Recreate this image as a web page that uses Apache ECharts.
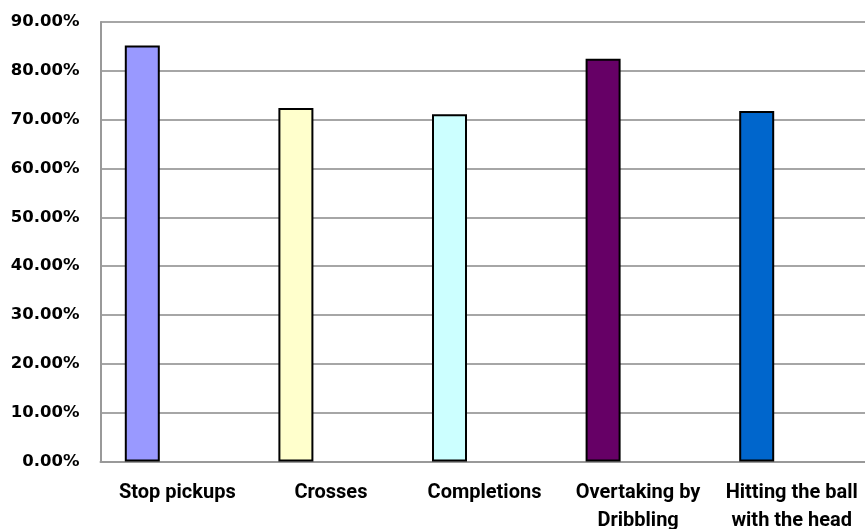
<!DOCTYPE html>
<html>
<head>
<meta charset="utf-8">
<script src="https://cdn.jsdelivr.net/npm/echarts@6/dist/echarts.min.js"></script>
<style>
  html, body { margin: 0; padding: 0; background: #ffffff; }
  #chart { width: 865px; height: 529px; }
</style>
</head>
<body>
<div id="chart"></div>
<script>
// Success rate per technical element (fraction of attempts)
const categories = [
  'Stop pickups',
  'Crosses',
  'Completions',
  'Overtaking by\nDribbling',
  'Hitting the ball\nwith the head'
];
const successRates = [0.852, 0.724, 0.711, 0.825, 0.718];
const barColors = ['#9999FF', '#FFFFCC', '#CCFFFF', '#660066', '#0066CC'];
const yTicks = { min: 0, max: 0.9, interval: 0.1 };

const chart = echarts.init(document.getElementById('chart'), null, { renderer: 'canvas' });

// Two empty companion series keep each bar on the left third of its slot
const spacerSeries = [1, 2].map(i => ({
  type: 'bar',
  name: 'spacer' + i,
  data: categories.map(() => '-'),
  barWidth: 35,
  barGap: '0%',
  silent: true
}));

chart.setOption({
  animation: false,
  backgroundColor: '#ffffff',
  grid: {
    left: 100.5, top: 22, width: 768, bottom: 67.5,
    containLabel: false,
    outerBoundsMode: 'none'
  },
  xAxis: {
    type: 'category',
    data: categories,
    axisLine: { show: true, lineStyle: { color: '#999999', width: 2 } },
    axisTick: { show: false },
    axisLabel: {
      interval: 0,
      margin: 17,
      color: '#000000',
      fontFamily: 'Roboto',
      fontWeight: 'bold',
      fontSize: 20,
      lineHeight: 28,
      align: 'center'
    },
    splitLine: { show: false }
  },
  yAxis: {
    type: 'value',
    min: yTicks.min,
    max: yTicks.max,
    interval: yTicks.interval,
    axisLine: { show: true, lineStyle: { color: '#999999', width: 2 } },
    axisTick: { show: false },
    axisLabel: {
      margin: 21,
      color: '#000000',
      fontFamily: 'DejaVu Sans',
      fontWeight: 'bold',
      fontSize: 16.5,
      formatter: v => (v * 100).toFixed(2) + '%'
    },
    splitLine: { show: true, lineStyle: { color: '#a6a6a6', width: 2 } }
  },
  series: [
    {
      type: 'bar',
      name: 'Success rate',
      data: successRates.map((v, i) => ({
        value: v,
        itemStyle: { color: barColors[i] }
      })),
      barWidth: 35,
      barGap: '0%',
      itemStyle: { borderColor: '#000000', borderWidth: 2 }
    },
    ...spacerSeries
  ]
});
</script>
</body>
</html>
